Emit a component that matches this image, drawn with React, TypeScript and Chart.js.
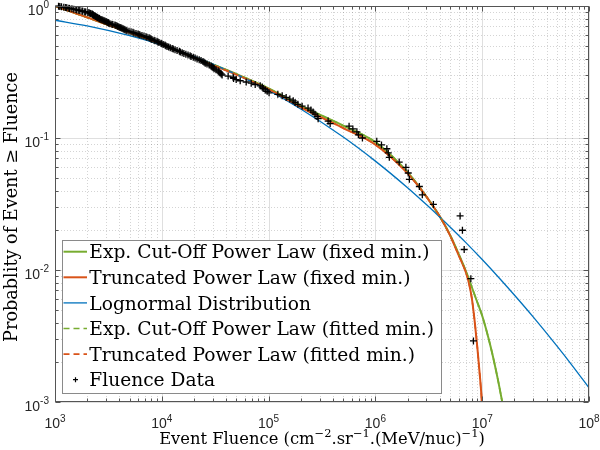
import React, { useEffect, useRef } from 'react';
import { Chart, registerables } from 'chart.js';

Chart.register(...registerables);

// decades that carry a tick label (exponents of 10)
const xDecades = [3, 4, 5, 6, 7, 8];
const yDecades = [0, -1, -2, -3];

const legendNames = [
  'Exp. Cut-Off Power Law (fixed min.)',
  'Truncated Power Law (fixed min.)',
  'Lognormal Distribution',
  'Exp. Cut-Off Power Law (fitted min.)',
  'Truncated Power Law (fitted min.)',
  'Fluence Data',
];

// model curves
const expCutX = [1e3, 2e3, 5e3, 1e4, 2e4, 5e4, 1e5, 2e5, 5e5, 1e6, 2e6, 3e6, 4e6, 5e6, 6e6, 7e6, 8e6, 9e6, 1e7, 1.2e7, 1.4e7, 1.6e7];
const expCutP = [1.0, 0.82, 0.63, 0.51, 0.41, 0.305, 0.238, 0.176, 0.124, 0.093, 0.055, 0.036, 0.0255, 0.0184, 0.0133, 0.0099, 0.0074, 0.0057, 0.0045, 0.00262, 0.00149, 0.00085];

const truncX = [1e3, 2e3, 5e3, 1e4, 2e4, 5e4, 1e5, 2e5, 5e5, 1e6, 2e6, 3e6, 4e6, 5e6, 6e6, 7e6, 7.5e6, 8e6, 8.5e6, 9e6, 9.4e6, 9.7e6, 9.9e6, 1e7];
const truncP = [1.0, 0.82, 0.63, 0.51, 0.408, 0.302, 0.234, 0.171, 0.119, 0.089, 0.054, 0.036, 0.0255, 0.0183, 0.013, 0.0097, 0.008, 0.0061, 0.0041, 0.0026, 0.00175, 0.0013, 0.001, 0.0007];

const lognX = [1e3, 2e3, 5e3, 1e4, 2e4, 5e4, 1e5, 2e5, 5e5, 1e6, 2e6, 3e6, 4e6, 5e6, 7e6, 1e7, 1.5e7, 2e7, 3e7, 5e7, 7e7, 1e8];
const lognP = [0.78, 0.707, 0.596, 0.506, 0.416, 0.303, 0.229, 0.166, 0.1017, 0.0668, 0.042, 0.0313, 0.0252, 0.0212, 0.0162, 0.012, 0.0084, 0.00646, 0.00441, 0.00266, 0.00188, 0.00128];

// empirical data (fluence, exceedance probability)
const fluenceX = [
  1.08e3, 1.11e3, 1.15e3, 1.21e3, 1.26e3, 1.29e3, 1.35e3, 1.37e3, 1.44e3, 1.5e3,
  1.57e3, 1.6e3, 1.67e3, 1.71e3, 1.79e3, 1.82e3, 1.9e3, 1.94e3, 2.03e3, 2.08e3,
  2.12e3, 2.16e3, 2.22e3, 2.24e3, 2.27e3, 2.28e3, 2.31e3, 2.36e3, 2.38e3, 2.41e3,
  2.46e3, 2.49e3, 2.52e3, 2.58e3, 2.6e3, 2.63e3, 2.69e3, 2.75e3, 2.81e3, 2.87e3,
  2.93e3, 3.0e3, 3.06e3, 3.13e3, 3.15e3, 3.19e3, 3.27e3, 3.41e3, 3.48e3, 3.64e3,
  3.72e3, 3.81e3, 3.88e3, 3.97e3, 4.06e3, 4.14e3, 4.23e3, 4.33e3, 4.42e3, 4.51e3,
  4.62e3, 4.72e3, 4.93e3, 5.15e3, 5.37e3, 5.49e3, 5.73e3, 5.98e3, 6.12e3, 6.25e3,
  6.52e3, 6.81e3, 7.11e3, 7.27e3, 7.59e3, 7.76e3, 7.92e3, 8.09e3, 8.46e3, 8.64e3,
  9.02e3, 9.21e3, 9.42e3, 9.83e3, 1.0e4, 1.03e4, 1.07e4, 1.09e4, 1.12e4, 1.16e4,
  1.2e4, 1.25e4, 1.28e4, 1.33e4, 1.39e4, 1.46e4, 1.49e4, 1.55e4, 1.61e4, 1.68e4,
  1.76e4, 1.84e4, 1.88e4, 1.97e4, 2.05e4, 2.14e4, 2.24e4, 2.33e4, 2.43e4, 2.49e4,
  2.55e4, 2.65e4, 2.78e4, 2.9e4, 2.96e4, 3.03e4, 3.09e4, 3.22e4, 3.37e4, 3.44e4,
  3.52e4, 3.6e4, 3.67e4, 4.18e4, 4.66e4, 4.7e4, 4.97e4, 5.42e4, 6.17e4, 6.87e4,
  7.49e4, 8.34e4, 8.72e4, 8.9e4, 9.3e4, 9.7e4, 1.01e5, 1.22e5, 1.34e5, 1.46e5,
  1.58e5, 1.7e5, 1.77e5, 1.88e5, 2.06e5, 2.34e5, 2.49e5, 2.61e5, 2.72e5, 2.85e5,
  2.91e5, 3.61e5, 3.77e5, 5.67e5, 6.15e5, 6.71e5, 6.93e5, 7.56e5, 1.03e6, 1.14e6,
  1.28e6, 1.32e6, 1.35e6, 1.67e6, 1.93e6, 2.03e6, 2.08e6, 2.58e6, 2.75e6, 3.49e6,
  6.21e6, 6.53e6, 6.78e6, 7.83e6, 8.28e6,
];
const fluenceP = [
  0.9971, 0.9914, 0.9857, 0.98, 0.9743, 0.9686, 0.9629, 0.9571, 0.9514, 0.9457,
  0.94, 0.9343, 0.9286, 0.9229, 0.9171, 0.9114, 0.9057, 0.9, 0.8943, 0.8886,
  0.8829, 0.8771, 0.8714, 0.8657, 0.86, 0.8543, 0.8486, 0.8429, 0.8371, 0.8314,
  0.8257, 0.82, 0.8143, 0.8086, 0.8029, 0.7971, 0.7914, 0.7857, 0.78, 0.7743,
  0.7686, 0.7629, 0.7571, 0.7514, 0.7457, 0.74, 0.7343, 0.7286, 0.7229, 0.7171,
  0.7114, 0.7057, 0.7, 0.6943, 0.6886, 0.6829, 0.6771, 0.6714, 0.6657, 0.66,
  0.6543, 0.6486, 0.6429, 0.6371, 0.6314, 0.6257, 0.62, 0.6143, 0.6086, 0.6029,
  0.5971, 0.5914, 0.5857, 0.58, 0.5743, 0.5686, 0.5629, 0.5571, 0.5514, 0.5457,
  0.54, 0.5343, 0.5286, 0.5229, 0.5171, 0.5114, 0.5057, 0.5, 0.4943, 0.4886,
  0.4829, 0.4771, 0.4714, 0.4657, 0.46, 0.4543, 0.4486, 0.4429, 0.4371, 0.4314,
  0.4257, 0.42, 0.4143, 0.4086, 0.4029, 0.3971, 0.3914, 0.3857, 0.38, 0.3743,
  0.3686, 0.3629, 0.3571, 0.3514, 0.3457, 0.34, 0.3343, 0.3286, 0.3229, 0.3171,
  0.3114, 0.3057, 0.3, 0.2943, 0.2886, 0.2829, 0.2771, 0.2714, 0.2657, 0.26,
  0.2543, 0.2486, 0.2429, 0.2371, 0.2314, 0.2257, 0.22, 0.2143, 0.2086, 0.2029,
  0.1971, 0.1914, 0.1857, 0.18, 0.1743, 0.1686, 0.1629, 0.1571, 0.1514, 0.1457,
  0.14, 0.1343, 0.1286, 0.1229, 0.1171, 0.1114, 0.1057, 0.1, 0.0943, 0.0886,
  0.0829, 0.0771, 0.0714, 0.0657, 0.06, 0.0543, 0.0486, 0.0429, 0.0371, 0.0314,
  0.0257, 0.02, 0.0143, 0.0086, 0.0029,
];

const GREEN = '#77AC30';
const ORANGE = '#D95319';
const BLUE = '#0072BD';
const AXIS = '#262626';
const SANS = '"Liberation Sans", Arial, sans-serif';
const SERIF = '"DejaVu Serif", serif';

type Run = [string, boolean];
const xTitle: Run[] = [
  ['Event Fluence (cm', false], ['\u22122', true], ['.sr', false], ['\u22121', true],
  ['.(MeV/nuc)', false], ['\u22121', true], [')', false],
];
const yTitle = 'Probablity of Event \u2265 Fluence';

const pts = (xs: number[], ys: number[]) => xs.map((x, i) => ({ x, y: ys[i] }));

function runsWidth(ctx: CanvasRenderingContext2D, runs: Run[], size: number) {
  let w = 0;
  for (const [t, sup] of runs) {
    ctx.font = `${sup ? size * 0.7 : size}px ${SERIF}`;
    w += ctx.measureText(t).width;
  }
  return w;
}

function drawRuns(ctx: CanvasRenderingContext2D, runs: Run[], size: number, cx: number, base: number) {
  let x = cx - runsWidth(ctx, runs, size) / 2;
  ctx.textAlign = 'left';
  ctx.textBaseline = 'alphabetic';
  for (const [t, sup] of runs) {
    ctx.font = `${sup ? size * 0.7 : size}px ${SERIF}`;
    ctx.fillText(t, x, sup ? base - size * 0.42 : base);
    x += ctx.measureText(t).width;
  }
}

function drawPow(ctx: CanvasRenderingContext2D, exp: number, x: number, base: number, align: 'center' | 'right') {
  ctx.font = `14px ${SANS}`;
  const bw = ctx.measureText('10').width;
  ctx.font = `10px ${SANS}`;
  const sup = String(exp);
  const sw = ctx.measureText(sup).width;
  const left = align === 'center' ? x - (bw + sw) / 2 : x - bw - sw;
  ctx.textAlign = 'left';
  ctx.textBaseline = 'alphabetic';
  ctx.font = `14px ${SANS}`;
  ctx.fillText('10', left, base);
  ctx.font = `10px ${SANS}`;
  ctx.fillText(sup, left + bw, base - 6.5);
}

const decor = {
  id: 'matlabDecor',
  beforeDraw(chart: any) {
    const { ctx, width, height } = chart;
    ctx.save();
    ctx.fillStyle = '#fff';
    ctx.fillRect(0, 0, width, height);
    ctx.restore();
  },
  beforeDatasetsDraw(chart: any) {
    const { ctx, chartArea: a, scales } = chart;
    const sx = scales.x;
    const sy = scales.y;
    ctx.save();
    ctx.lineWidth = 1;
    // minor grid, dotted
    ctx.strokeStyle = 'rgba(38,38,38,0.2)';
    ctx.setLineDash([1, 2]);
    ctx.beginPath();
    for (let d = xDecades[0]; d < xDecades[xDecades.length - 1]; d++) {
      for (let m = 2; m <= 9; m++) {
        const px = Math.round(sx.getPixelForValue(m * 10 ** d)) + 0.5;
        ctx.moveTo(px, a.top);
        ctx.lineTo(px, a.bottom);
      }
    }
    for (let d = yDecades[yDecades.length - 1]; d < yDecades[0]; d++) {
      for (let m = 2; m <= 9; m++) {
        const py = Math.round(sy.getPixelForValue(m * 10 ** d)) + 0.5;
        ctx.moveTo(a.left, py);
        ctx.lineTo(a.right, py);
      }
    }
    ctx.stroke();
    // major grid, solid
    ctx.setLineDash([]);
    ctx.strokeStyle = 'rgba(38,38,38,0.15)';
    ctx.beginPath();
    for (const d of xDecades) {
      const px = Math.round(sx.getPixelForValue(10 ** d)) + 0.5;
      ctx.moveTo(px, a.top);
      ctx.lineTo(px, a.bottom);
    }
    for (const d of yDecades) {
      const py = Math.round(sy.getPixelForValue(10 ** d)) + 0.5;
      ctx.moveTo(a.left, py);
      ctx.lineTo(a.right, py);
    }
    ctx.stroke();
    ctx.restore();
  },
  afterDatasetsDraw(chart: any) {
    const { ctx, chartArea: a, scales } = chart;
    const sx = scales.x;
    const sy = scales.y;
    const L = Math.round(a.left) + 0.5;
    const R = Math.round(a.right) - 0.5;
    const T = Math.round(a.top) + 0.5;
    const B = Math.round(a.bottom) - 0.5;
    ctx.save();

    // inward ticks on all four sides
    ctx.strokeStyle = '#555';
    ctx.lineWidth = 1;
    ctx.beginPath();
    const xTick = (v: number, len: number) => {
      const px = Math.round(sx.getPixelForValue(v)) + 0.5;
      ctx.moveTo(px, B); ctx.lineTo(px, B - len);
      ctx.moveTo(px, T); ctx.lineTo(px, T + len);
    };
    const yTick = (v: number, len: number) => {
      const py = Math.round(sy.getPixelForValue(v)) + 0.5;
      ctx.moveTo(L, py); ctx.lineTo(L + len, py);
      ctx.moveTo(R, py); ctx.lineTo(R - len, py);
    };
    for (const d of xDecades) xTick(10 ** d, 5);
    for (let d = xDecades[0]; d < xDecades[xDecades.length - 1]; d++) for (let m = 2; m <= 9; m++) xTick(m * 10 ** d, 3);
    for (const d of yDecades) yTick(10 ** d, 5);
    for (let d = yDecades[yDecades.length - 1]; d < yDecades[0]; d++) for (let m = 2; m <= 9; m++) yTick(m * 10 ** d, 3);
    ctx.stroke();

    // axes box
    ctx.strokeRect(L, T, R - L, B - T);

    // tick labels
    ctx.fillStyle = AXIS;
    for (const d of xDecades) drawPow(ctx, d, sx.getPixelForValue(10 ** d), 428, 'center');
    for (const d of yDecades) drawPow(ctx, d, 49, sy.getPixelForValue(10 ** d) + 8.5, 'right');

    // axis titles
    ctx.fillStyle = '#000';
    ctx.font = `20px ${SERIF}`;
    const titleSize = (20 * 326) / runsWidth(ctx, xTitle, 20);
    drawRuns(ctx, xTitle, titleSize, (a.left + a.right) / 2, 444);
    ctx.save();
    ctx.font = `20px ${SERIF}`;
    const ySize = (20 * 270) / ctx.measureText(yTitle).width;
    ctx.translate(17, 207);
    ctx.rotate(-Math.PI / 2);
    ctx.font = `${ySize}px ${SERIF}`;
    ctx.textAlign = 'center';
    ctx.textBaseline = 'alphabetic';
    ctx.fillText(yTitle, 0, 0);
    ctx.restore();

    // legend
    const lg = { left: 62, top: 240, right: 442, bottom: 394 };
    ctx.fillStyle = '#fff';
    ctx.fillRect(lg.left, lg.top, lg.right - lg.left, lg.bottom - lg.top);
    ctx.strokeStyle = '#8a8a8a';
    ctx.strokeRect(lg.left + 0.5, lg.top + 0.5, lg.right - lg.left - 1, lg.bottom - lg.top - 1);
    ctx.font = `20px ${SERIF}`;
    const legSize = (20 * 345) / ctx.measureText(legendNames[3]).width;
    const styles = [
      { c: GREEN, w: 2, dash: [] as number[] },
      { c: ORANGE, w: 2, dash: [] as number[] },
      { c: BLUE, w: 1.3, dash: [] as number[] },
      { c: GREEN, w: 1.6, dash: [6, 4] },
      { c: ORANGE, w: 1.6, dash: [6, 4] },
      null,
    ];
    legendNames.forEach((name, i) => {
      const cy = lg.top + 11.7 + i * 25.6;
      const st = styles[i];
      ctx.save();
      if (st) {
        ctx.strokeStyle = st.c;
        ctx.lineWidth = st.w;
        ctx.setLineDash(st.dash);
        ctx.beginPath();
        ctx.moveTo(63.5, cy);
        ctx.lineTo(87, cy);
        ctx.stroke();
      } else {
        ctx.strokeStyle = '#000';
        ctx.lineWidth = 1.2;
        ctx.beginPath();
        ctx.moveTo(73, cy); ctx.lineTo(78, cy);
        ctx.moveTo(75.5, cy - 2.5); ctx.lineTo(75.5, cy + 2.5);
        ctx.stroke();
      }
      ctx.restore();
      ctx.fillStyle = '#000';
      ctx.font = `${legSize}px ${SERIF}`;
      ctx.textAlign = 'left';
      ctx.textBaseline = 'alphabetic';
      ctx.fillText(name, 89.3, cy + legSize * 0.36);
    });
    ctx.restore();
  },
};

const App: React.FC = () => {
  const canvasRef = useRef<HTMLCanvasElement>(null);
  const chartRef = useRef<Chart | null>(null);

  useEffect(() => {
    if (!canvasRef.current) return;
    if (chartRef.current) chartRef.current.destroy();

    const line = (data: { x: number; y: number }[], color: string, width: number, dash: number[], order: number) => ({
      data,
      showLine: true,
      borderColor: color,
      backgroundColor: color,
      borderWidth: width,
      borderDash: dash,
      pointRadius: 0,
      cubicInterpolationMode: 'monotone' as const,
      order,
    });

    chartRef.current = new Chart(canvasRef.current, {
      type: 'scatter',
      data: {
        datasets: [
          {
            label: legendNames[5],
            data: pts(fluenceX, fluenceP),
            pointStyle: 'cross',
            pointRadius: 3.5,
            pointBorderWidth: 1.3,
            borderColor: '#000',
            backgroundColor: '#000',
            showLine: false,
            order: 0,
            clip: 4,
          },
          { label: legendNames[4], ...line(pts(truncX, truncP), ORANGE, 1.6, [6, 4], 1) },
          { label: legendNames[3], ...line(pts(expCutX, expCutP), GREEN, 1.6, [6, 4], 2) },
          { label: legendNames[2], ...line(pts(lognX, lognP), BLUE, 1.3, [], 3) },
          { label: legendNames[1], ...line(pts(truncX, truncP), ORANGE, 2, [], 4) },
          { label: legendNames[0], ...line(pts(expCutX, expCutP), GREEN, 2, [], 5) },
        ] as any,
      },
      options: {
        responsive: false,
        animation: false,
        events: [],
        layout: { padding: { left: 55, top: 6, right: 11, bottom: 48 } },
        scales: {
          x: { type: 'logarithmic', min: 1e3, max: 1e8, display: false },
          y: { type: 'logarithmic', min: 1e-3, max: 1, display: false },
        },
        plugins: { legend: { display: false }, tooltip: { enabled: false } },
      },
      plugins: [decor],
    });

    return () => {
      if (chartRef.current) {
        chartRef.current.destroy();
        chartRef.current = null;
      }
    };
  }, []);

  return (
    <div style={{ position: 'fixed', left: 0, top: 0, width: 600, height: 450, background: '#fff' }}>
      <canvas ref={canvasRef} width={600} height={450} style={{ display: 'block' }} />
    </div>
  );
};

export default App;
